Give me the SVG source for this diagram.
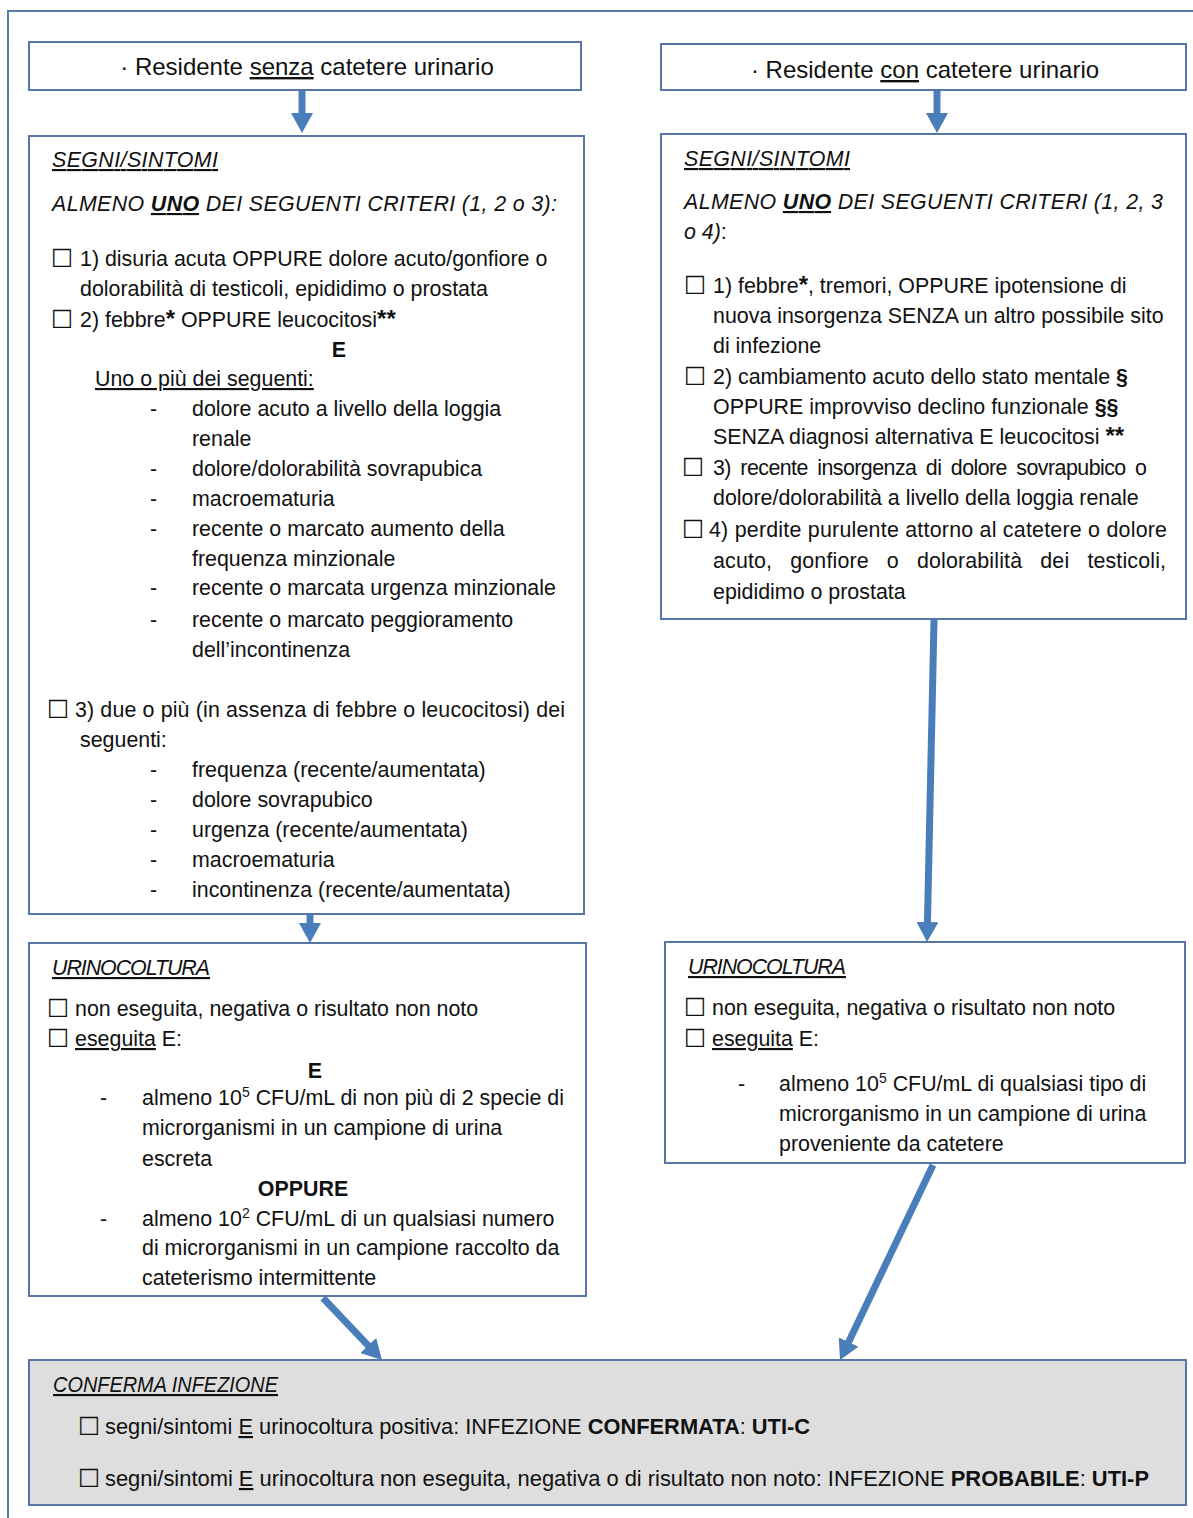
<svg xmlns="http://www.w3.org/2000/svg" width="1193" height="1518" viewBox="0 0 1193 1518">
<style>
.t{font-family:"Liberation Sans",Arial,sans-serif;font-size:21.4px;fill:#111}
.h{font-size:24px}
.i{font-style:italic}
.u{text-decoration:underline}
.b{font-weight:bold}
.ast{font-weight:bold;font-size:24px}
.cb{font-family:"DejaVu Sans",sans-serif;font-size:25px;fill:#111}
.box{fill:#fff;stroke:#5676a8;stroke-width:2}
.gray{fill:#dedede;stroke:#5676a8;stroke-width:2}
.arr{stroke:#4a7ebb;stroke-width:7;fill:none;marker-end:url(#ah)}
</style>
<defs>
<marker id="ah" markerUnits="userSpaceOnUse" markerWidth="20" markerHeight="22" refX="8" refY="11" orient="auto">
<path d="M0,0 L20,11 L0,22 Z" fill="#4a7ebb"/>
</marker>
</defs>
<rect width="1193" height="1518" fill="#fff"/>
<path d="M8,1518 V11 H1193" fill="none" stroke="#5a7aad" stroke-width="2"/>

<g id="connectors">
<line class="arr" x1="302" y1="91" x2="302" y2="121"/>
<line class="arr" x1="937" y1="91" x2="937" y2="121"/>
<line class="arr" x1="310" y1="915" x2="310" y2="931"/>
<line class="arr" x1="934" y1="620" x2="927.3" y2="930"/>
<line class="arr" x1="323" y1="1298" x2="373.7" y2="1351.3"/>
<line class="arr" x1="933" y1="1165" x2="845.2" y2="1349.2"/>
</g>

<g id="node-senza">
<rect class="box" x="29" y="42" width="552" height="48"/>
<text class="t h" x="307" y="75" text-anchor="middle">· Residente <tspan class="u">senza</tspan> catetere urinario</text>
</g>

<g id="node-con">
<rect class="box" x="661" y="44" width="525" height="46"/>
<text class="t h" x="925" y="78" text-anchor="middle">· Residente <tspan class="u">con</tspan> catetere urinario</text>
</g>

<g id="node-segni-sx">
<rect class="box" x="29" y="136" width="555" height="778"/>
<text class="t i u" x="52" y="167" textLength="166">SEGNI/SINTOMI</text>
<text class="t i" x="52" y="211" textLength="505">ALMENO <tspan class="b u">UNO</tspan> DEI SEGUENTI CRITERI (1, 2 o 3):</text>
<text class="cb" x="51" y="267">☐</text>
<text class="t" x="80" y="266">1) disuria acuta OPPURE dolore acuto/gonfiore o</text>
<text class="t" x="80" y="296">dolorabilità di testicoli, epididimo o prostata</text>
<text class="cb" x="51" y="328">☐</text>
<text class="t" x="80" y="327">2) febbre<tspan class="ast">*</tspan> OPPURE leucocitosi<tspan class="ast">**</tspan></text>
<text class="t b" x="339" y="357" text-anchor="middle">E</text>
<text class="t u" x="95" y="386">Uno o più dei seguenti:</text>
<text class="t" x="150" y="416">-</text><text class="t" x="192" y="416">dolore acuto a livello della loggia</text>
<text class="t" x="192" y="446">renale</text>
<text class="t" x="150" y="476">-</text><text class="t" x="192" y="476">dolore/dolorabilità sovrapubica</text>
<text class="t" x="150" y="506">-</text><text class="t" x="192" y="506">macroematuria</text>
<text class="t" x="150" y="536">-</text><text class="t" x="192" y="536">recente o marcato aumento della</text>
<text class="t" x="192" y="566">frequenza minzionale</text>
<text class="t" x="150" y="595">-</text><text class="t" x="192" y="595">recente o marcata urgenza minzionale</text>
<text class="t" x="150" y="627">-</text><text class="t" x="192" y="627">recente o marcato peggioramento</text>
<text class="t" x="192" y="657">dell’incontinenza</text>
<text class="cb" x="47" y="718">☐</text>
<text class="t" x="75" y="717" textLength="490" lengthAdjust="spacing">3) due o più (in assenza di febbre o leucocitosi) dei</text>
<text class="t" x="80" y="747">seguenti:</text>
<text class="t" x="150" y="777">-</text><text class="t" x="192" y="777">frequenza (recente/aumentata)</text>
<text class="t" x="150" y="807">-</text><text class="t" x="192" y="807">dolore sovrapubico</text>
<text class="t" x="150" y="837">-</text><text class="t" x="192" y="837">urgenza (recente/aumentata)</text>
<text class="t" x="150" y="867">-</text><text class="t" x="192" y="867">macroematuria</text>
<text class="t" x="150" y="897">-</text><text class="t" x="192" y="897">incontinenza (recente/aumentata)</text>
</g>

<g id="node-segni-dx">
<rect class="box" x="661" y="134" width="525" height="485"/>
<text class="t i u" x="684" y="166" textLength="166">SEGNI/SINTOMI</text>
<text class="t i" x="684" y="209" textLength="479">ALMENO <tspan class="b u">UNO</tspan> DEI SEGUENTI CRITERI (1, 2, 3</text>
<text class="t" x="684" y="239"><tspan class="i">o 4)</tspan>:</text>
<text class="cb" x="684" y="294">☐</text>
<text class="t" x="713" y="293">1) febbre<tspan class="ast">*</tspan>, tremori, OPPURE ipotensione di</text>
<text class="t" x="713" y="323">nuova insorgenza SENZA un altro possibile sito</text>
<text class="t" x="713" y="353">di infezione</text>
<text class="cb" x="684" y="385">☐</text>
<text class="t" x="713" y="384">2) cambiamento acuto dello stato mentale <tspan class="b">§</tspan></text>
<text class="t" x="713" y="414">OPPURE improvviso declino funzionale <tspan class="b">§§</tspan></text>
<text class="t" x="713" y="444">SENZA diagnosi alternativa E leucocitosi <tspan class="ast">**</tspan></text>
<text class="cb" x="682" y="476">☐</text>
<text class="t" x="713" y="475" word-spacing="4" textLength="434" lengthAdjust="spacing">3) recente insorgenza di dolore sovrapubico o</text>
<text class="t" x="713" y="505">dolore/dolorabilità a livello della loggia renale</text>
<text class="cb" x="682" y="538">☐</text>
<text class="t" x="709" y="537" textLength="458" lengthAdjust="spacing">4) perdite purulente attorno al catetere o dolore</text>
<text class="t" x="713" y="568" word-spacing="12" textLength="453" lengthAdjust="spacing">acuto, gonfiore o dolorabilità dei testicoli,</text>
<text class="t" x="713" y="599">epididimo o prostata</text>
</g>

<g id="node-urino-sx">
<rect class="box" x="29" y="943" width="557" height="353"/>
<text class="t i u" x="52" y="975" textLength="158">URINOCOLTURA</text>
<text class="cb" x="47" y="1017">☐</text>
<text class="t" x="75" y="1016">non eseguita, negativa o risultato non noto</text>
<text class="cb" x="47" y="1047">☐</text>
<text class="t" x="75" y="1046"><tspan class="u">eseguita</tspan> E:</text>
<text class="t b" x="315" y="1078" text-anchor="middle">E</text>
<text class="t" x="100" y="1105">-</text>
<text class="t" x="142" y="1105">almeno 10<tspan font-size="14" dy="-8">5</tspan><tspan dy="8"> CFU/mL di non più di 2 specie di</tspan></text>
<text class="t" x="142" y="1135">microrganismi in un campione di urina</text>
<text class="t" x="142" y="1166">escreta</text>
<text class="t b" x="303" y="1196" text-anchor="middle">OPPURE</text>
<text class="t" x="100" y="1226">-</text>
<text class="t" x="142" y="1226">almeno 10<tspan font-size="14" dy="-8">2</tspan><tspan dy="8"> CFU/mL di un qualsiasi numero</tspan></text>
<text class="t" x="142" y="1255">di microrganismi in un campione raccolto da</text>
<text class="t" x="142" y="1285">cateterismo intermittente</text>
</g>

<g id="node-urino-dx">
<rect class="box" x="665" y="942" width="520" height="221"/>
<text class="t i u" x="688" y="974" textLength="158">URINOCOLTURA</text>
<text class="cb" x="684" y="1016">☐</text>
<text class="t" x="712" y="1015">non eseguita, negativa o risultato non noto</text>
<text class="cb" x="684" y="1047">☐</text>
<text class="t" x="712" y="1046"><tspan class="u">eseguita</tspan> E:</text>
<text class="t" x="738" y="1091">-</text>
<text class="t" x="779" y="1091">almeno 10<tspan font-size="14" dy="-8">5</tspan><tspan dy="8"> CFU/mL di qualsiasi tipo di</tspan></text>
<text class="t" x="779" y="1121">microrganismo in un campione di urina</text>
<text class="t" x="779" y="1151">proveniente da catetere</text>
</g>

<g id="node-conferma">
<rect class="gray" x="29" y="1360" width="1157" height="145"/>
<text class="t i u" x="53" y="1392" textLength="225" lengthAdjust="spacingAndGlyphs">CONFERMA INFEZIONE</text>
<text class="cb" x="78" y="1435">☐</text>
<text class="t" x="105" y="1434" textLength="705" lengthAdjust="spacingAndGlyphs">segni/sintomi <tspan class="u">E</tspan> urinocoltura positiva: INFEZIONE <tspan class="b">CONFERMATA</tspan>: <tspan class="b">UTI-C</tspan></text>
<text class="cb" x="78" y="1487">☐</text>
<text class="t" x="105" y="1486" textLength="1044" lengthAdjust="spacingAndGlyphs">segni/sintomi <tspan class="u">E</tspan> urinocoltura non eseguita, negativa o di risultato non noto: INFEZIONE <tspan class="b">PROBABILE</tspan>: <tspan class="b">UTI-P</tspan></text>
</g>
</svg>
